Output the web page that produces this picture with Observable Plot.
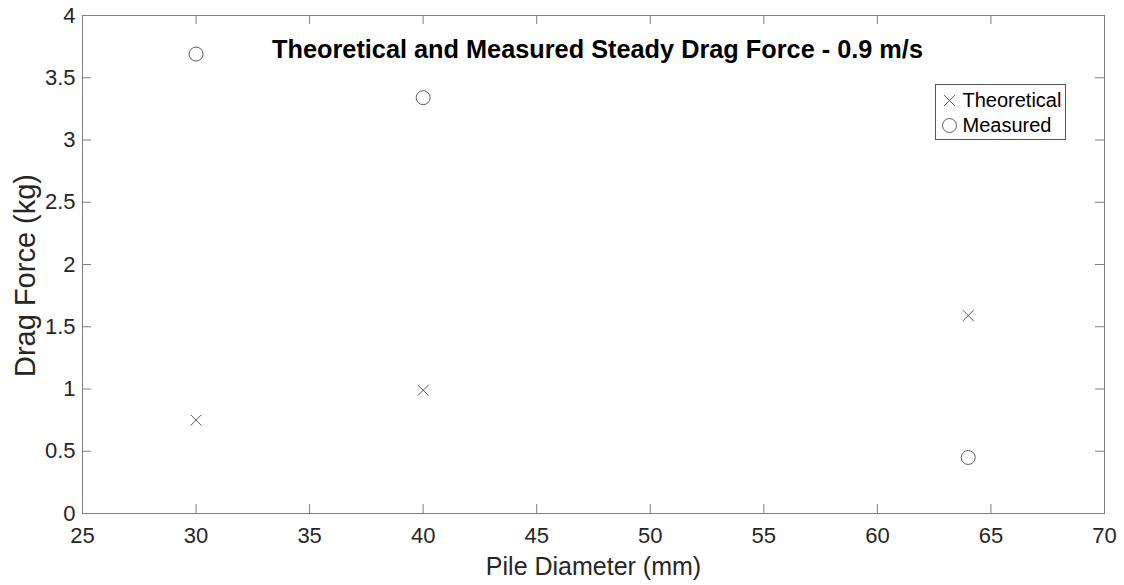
<!DOCTYPE html>
<html>
<head>
<meta charset="utf-8">
<script src="https://cdn.jsdelivr.net/npm/d3@7"></script>
<script src="https://cdn.jsdelivr.net/npm/@observablehq/plot@0.6"></script>
<style>
  html, body { margin: 0; padding: 0; background: #fff; }
  #chart { width: 1124px; height: 585px; }
</style>
</head>
<body>
<div id="chart"></div>
<script>
const diameters = [30, 40, 64];
const theoretical = [0.75, 0.99, 1.59];
const measured = [3.69, 3.34, 0.45];
const seriesNames = ["Theoretical", "Measured"];
const xTicks = [25, 30, 35, 40, 45, 50, 55, 60, 65, 70];
const yTicks = [0, 0.5, 1, 1.5, 2, 2.5, 3, 3.5, 4];
const titleText = "Theoretical and Measured Steady Drag Force - 0.9 m/s";
const xLabel = "Pile Diameter (mm)";
const yLabel = "Drag Force (kg)";

const theoData = diameters.map((d, i) => ({x: d, y: theoretical[i]}));
const measData = diameters.map((d, i) => ({x: d, y: measured[i]}));

const W = 1124, H = 585;
const mL = 82, mR = 20, mT = 15, mB = 72;
const fw = W - mL - mR, fh = H - mT - mB;
const tick = 9;
const axisColor = "#808080";
const markColor = "#5c5c5c";

const chart = Plot.plot({
  width: W,
  height: H,
  marginLeft: mL,
  marginRight: mR,
  marginTop: mT,
  marginBottom: mB,
  style: {fontFamily: "'Liberation Sans', Arial, sans-serif", fontSize: "22px", color: "#262626", background: "#fff"},
  x: {domain: [25, 70], axis: null},
  y: {domain: [0, 4], axis: null},
  marks: [
    Plot.frame({stroke: axisColor, strokeWidth: 1}),
    // inward ticks, bottom & top
    Plot.tickX(xTicks, {x: d => d, stroke: axisColor, insetTop: fh - tick}),
    Plot.tickX(xTicks, {x: d => d, stroke: axisColor, insetBottom: fh - tick}),
    // inward ticks, left & right
    Plot.tickY(yTicks, {y: d => d, stroke: axisColor, insetRight: fw - tick}),
    Plot.tickY(yTicks, {y: d => d, stroke: axisColor, insetLeft: fw - tick}),
    Plot.axisX(xTicks, {anchor: "bottom", tickSize: 0, tickPadding: 14, label: null, tickFormat: d => String(d)}),
    Plot.axisY(yTicks, {anchor: "left", tickSize: 0, tickPadding: 7, label: null, tickFormat: d => String(d)}),
    // data
    Plot.dot(theoData, {x: "x", y: "y", symbol: "times", r: 5, stroke: markColor, strokeWidth: 1}),
    Plot.dot(measData, {x: "x", y: "y", symbol: "circle", r: 7, stroke: markColor, strokeWidth: 1, fill: "none"}),
    // title
    Plot.text([titleText], {frameAnchor: "top", dy: 34, dx: 4, textAnchor: "middle", lineAnchor: "middle", fontSize: 25.3, fontWeight: "bold", fill: "#000"}),
    // axis labels
    Plot.text([xLabel], {frameAnchor: "bottom", dy: 53, textAnchor: "middle", lineAnchor: "middle", fontSize: 25, fill: "#262626"}),
    Plot.text([yLabel], {frameAnchor: "left", dx: -57, dy: 11, rotate: -90, textAnchor: "middle", lineAnchor: "middle", fontSize: 29, fill: "#262626"}),
    // legend box
    Plot.frame({stroke: "#555", strokeWidth: 1, fill: "#fff", insetLeft: 935 - mL, insetRight: (W - mR) - 1065, insetTop: 84 - mT, insetBottom: (H - mB) - 139}),
    Plot.dot([seriesNames[0]], {frameAnchor: "top-right", dx: -155, dy: 85, symbol: "times", r: 5, stroke: markColor, strokeWidth: 1}),
    Plot.dot([seriesNames[1]], {frameAnchor: "top-right", dx: -155, dy: 110, symbol: "circle", r: 7, stroke: markColor, strokeWidth: 1, fill: "none"}),
    Plot.text([seriesNames[0]], {frameAnchor: "top-right", dx: -142, dy: 85, textAnchor: "start", lineAnchor: "middle", fontSize: 20, fill: "#000"}),
    Plot.text([seriesNames[1]], {frameAnchor: "top-right", dx: -142, dy: 110, textAnchor: "start", lineAnchor: "middle", fontSize: 20, fill: "#000"})
  ]
});
document.getElementById("chart").appendChild(chart);
</script>
</body>
</html>
